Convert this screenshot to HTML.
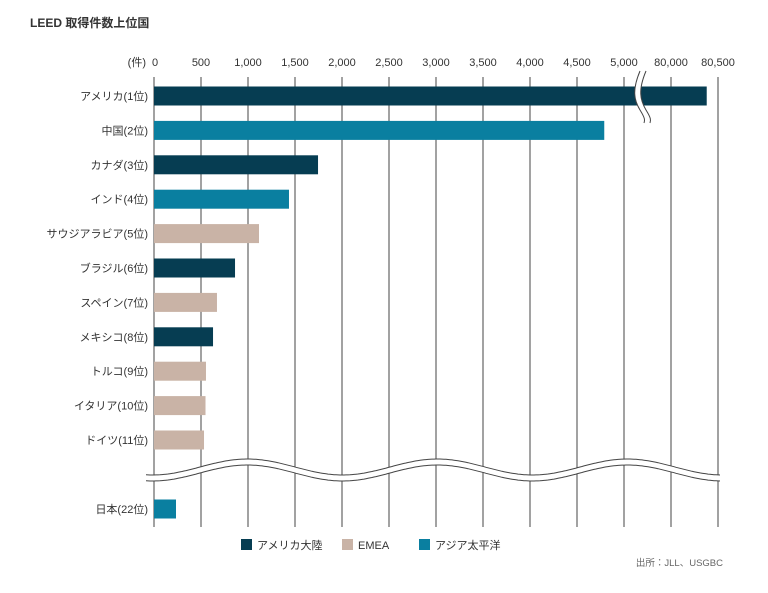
<!DOCTYPE html>
<html><head><meta charset="utf-8"><style>
body{margin:0;background:#fff;width:768px;height:588px;overflow:hidden;font-family:"Liberation Sans","Noto Sans CJK JP",sans-serif;}
</style></head><body>
<svg width="768" height="588" viewBox="0 0 768 588" font-family="Liberation Sans, Noto Sans CJK JP, sans-serif">
<text x="30" y="27" font-size="12" font-weight="bold" fill="#333">LEED 取得件数上位国</text>
<g id="grid"></g>
<g id="bars"></g>
<g id="labels"></g>
<g id="ticks"></g>
<g id="breaks"></g>
<g>
<rect x="241" y="539" width="11" height="11" fill="#063d52"/>
<text x="257" y="549" font-size="11" fill="#333">アメリカ大陸</text>
<rect x="342" y="539" width="11" height="11" fill="#c9b3a6"/>
<text x="358" y="549" font-size="11" fill="#333">EMEA</text>
<rect x="419" y="539" width="11" height="11" fill="#0a7fa0"/>
<text x="435" y="549" font-size="11" fill="#333">アジア太平洋</text>
</g>
<text x="723" y="566" font-size="9.5" fill="#666" text-anchor="end">出所：JLL、USGBC</text>
</svg>
<script>
const categories=["アメリカ(1位)","中国(2位)","カナダ(3位)","インド(4位)","サウジアラビア(5位)","ブラジル(6位)","スペイン(7位)","メキシコ(8位)","トルコ(9位)","イタリア(10位)","ドイツ(11位)","日本(22位)"];
const values=[80380,4790,1745,1436,1117,862,670,628,553,548,532,234];
const regions=["am","ap","am","ap","em","am","em","am","em","em","em","ap"];
const tickValues=[0,500,1000,1500,2000,2500,3000,3500,4000,4500,5000,80000,80500];
const tickLabels=["0","500","1,000","1,500","2,000","2,500","3,000","3,500","4,000","4,500","5,000","80,000","80,500"];
const colors={am:"#063d52",em:"#c9b3a6",ap:"#0a7fa0"};
const NS="http://www.w3.org/2000/svg";
const x0=154, k=47/500;
function xs(v){return v<=5000? x0+v*k : 671+(v-80000)*k;}
function ys(i){return i<11? 96+i*34.4 : 509;}
function mk(tag,attrs,parent,text){const e=document.createElementNS(NS,tag);for(const a in attrs)e.setAttribute(a,attrs[a]);if(text!==undefined)e.textContent=text;document.getElementById(parent).appendChild(e);return e;}
tickValues.forEach((v,i)=>{
 const x=xs(v);
 const l=mk("line",{x1:x,x2:x,y1:77,y2:527,stroke:"#444","stroke-width":1},"grid");
 
 
 const t=mk("text",{x:x,y:66,"font-size":11,fill:"#333","text-anchor":i==0?"start":"middle"},"ticks",tickLabels[i]);
 if(i==0)t.setAttribute("x",x-2);
 
 
});
const u=mk("text",{x:146,y:66,"font-size":11,fill:"#333","text-anchor":"end"},"ticks","(件)");


categories.forEach((c,i)=>{
 const y=ys(i);
 const r=mk("rect",{x:x0,y:y-9.5,width:xs(values[i])-x0,height:19,fill:colors[regions[i]]},"bars");
 
 
 const t=mk("text",{x:148,y:y+4,"font-size":11,fill:"#333","text-anchor":"end"},"labels",c);
 
 
});
const b1=mk("path",{d:"M640 71 C632 90,634 100,640 110 C645 118,645 120,644 123 L650 123 C651 120,651 118,646 110 C640 100,638 90,646 71 Z",fill:"#fff"},"breaks");


["M640 71 C632 90,634 100,640 110 C645 118,645 120,644 123","M646 71 C638 90,640 100,646 110 C651 118,651 120,650 123"].forEach(d=>{
 const p=mk("path",{d:d,fill:"none",stroke:"#444","stroke-width":1},"breaks");
 
 
});
let waveTop="",waveBot="";
for(let x=146;x<=720;x+=2){const y=470-8*Math.sin((x-200)/190*2*Math.PI); waveTop+=(x==146?"M":"L")+x+" "+(y-3).toFixed(1); waveBot+=(x==146?"M":"L")+x+" "+(y+3).toFixed(1);}
const wf=mk("path",{d:waveTop,fill:"none",stroke:"#fff","stroke-width":6},"breaks");
wf.setAttribute("transform","translate(0,3)");


[waveTop,waveBot].forEach(d=>{const p=mk("path",{d:d,fill:"none",stroke:"#444","stroke-width":1},"breaks");
 
 });
</script>
</body></html>
